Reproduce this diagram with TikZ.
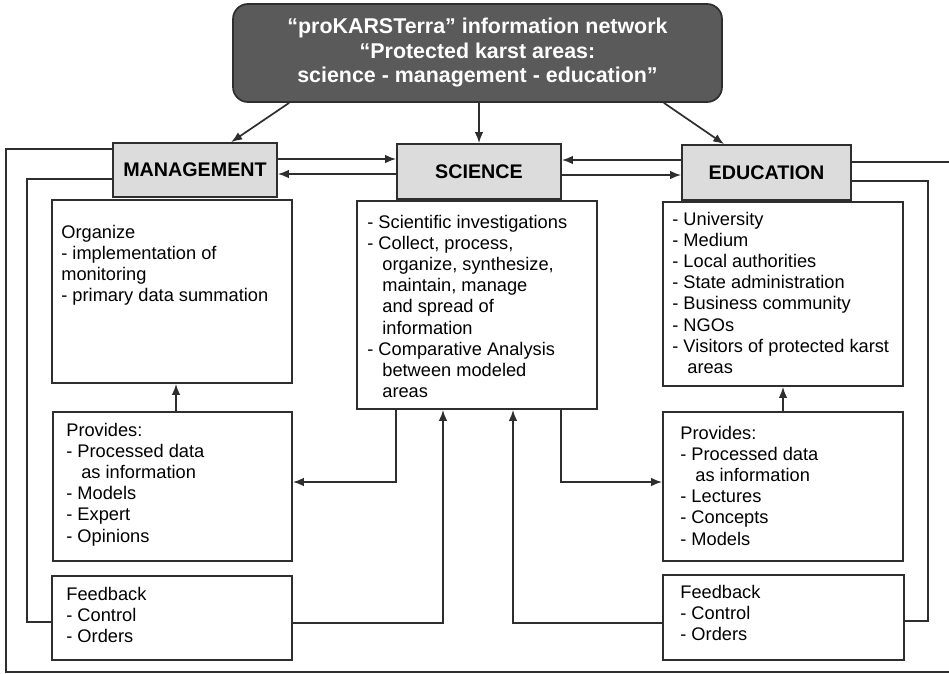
\documentclass[tikz,border=0pt]{standalone}
\usepackage{fontspec}
\setmainfont{Liberation Sans}
\usetikzlibrary{positioning,arrows.meta}
\definecolor{linegray}{HTML}{2E2E2E}
\definecolor{headgray}{HTML}{DCDCDC}
\definecolor{titlegray}{HTML}{5A5A5A}
\tikzset{
  box/.style={draw=linegray,line width=1.7pt,rectangle,inner sep=0pt},
  head/.style={box,fill=headgray,font=\fontsize{19.7}{23}\selectfont\bfseries},
  txt/.style={anchor=north west,inner sep=0pt,align=left,font=\fontsize{18.25}{21.1}\selectfont},
  wire/.style={draw=linegray,line width=1.7pt},
  link/.style={wire,-{Latex[length=11pt,width=8.5pt]}}
}
\newcommand{\ind}{\hspace*{15pt}}

\begin{document}
\begin{tikzpicture}[x=1pt,y=-1pt]
\useasboundingbox (0,0) rectangle (949,673);
\clip (0,0) rectangle (949,673);
\fill[white] (0,0) rectangle (949,673);

% network title
\node[box,fill=titlegray,rounded corners=15pt,minimum width=489pt,minimum height=98pt,text=white,align=center,font=\fontsize{21.4}{24.5}\selectfont\bfseries] (net) at (477.5,53) {“proKARSTerra” information network\\“Protected karst areas:\\science - management - education”};

% the three fields
\node[head,minimum width=164pt,minimum height=54pt] (man) at (195,170) {MANAGEMENT};
\node[head,minimum width=164pt,minimum height=55pt] (sci) at (479,171.5) {SCIENCE};
\node[head,minimum width=169pt,minimum height=55pt] (edu) at (766.5,172.5) {EDUCATION};

% boxes below
\node[box,minimum width=240pt,minimum height=183pt] (manorg) at (172,291.5) {};
\node[box,minimum width=239pt,minimum height=149pt] (manpro) at (172.5,486.5) {};
\node[box,minimum width=240pt,minimum height=84pt] (manfb) at (172,618) {};
\node[box,minimum width=240pt,minimum height=208pt] (scibox) at (477,305) {};
\node[box,minimum width=240pt,minimum height=184pt] (edulist) at (783,294) {};
\node[box,minimum width=240pt,minimum height=149pt] (edupro) at (783,486.5) {};
\node[box,minimum width=241pt,minimum height=85pt] (edufb) at (783.5,617.5) {};

\node[txt] (manorgtxt) at ([shift={(10pt,-26pt)}]manorg.north west) {Organize\\- implementation of\\monitoring\\- primary data summation};
\node[txt] (manprotxt) at ([shift={(14pt,-12pt)}]manpro.north west) {Provides:\\- Processed data\\\ind as information\\- Models\\- Expert\\- Opinions};
\node[txt] (manfbtxt) at ([shift={(15pt,-12pt)}]manfb.north west) {Feedback\\- Control\\- Orders};
\node[txt] (scitxt) at ([shift={(11pt,-15pt)}]scibox.north west) {- Scientific investigations\\- Collect, process,\\\ind organize, synthesize,\\\ind maintain, manage\\\ind and spread of\\\ind information\\- Comparative Analysis\\\ind between modeled\\\ind areas};
\node[txt] (edulisttxt) at ([shift={(10pt,-11pt)}]edulist.north west) {- University\\- Medium\\- Local authorities\\- State administration\\- Business community\\- NGOs\\- Visitors of protected karst\\\ind areas};
\node[txt] (eduprotxt) at ([shift={(18pt,-15pt)}]edupro.north west) {Provides:\\- Processed data\\\ind as information\\- Lectures\\- Concepts\\- Models};
\node[txt] (edufbtxt) at ([shift={(18pt,-11pt)}]edufb.north west) {Feedback\\- Control\\- Orders};

% arrows from the network
\draw[link] ([xshift=57pt]net.south west) -- ([xshift=119pt]man.north west);
\draw[link] (net.south -| sci.north) -- (sci.north);
\draw[link] ([xshift=-59pt]net.south east) -- ([xshift=43pt]edu.north west);

% exchange between the fields
\draw[link] ([yshift=11pt]man.east) -- ([yshift=11pt]man.east -| sci.west);
\draw[link] ([yshift=-2.5pt]sci.west) -- ([yshift=-2.5pt]sci.west -| man.east);
\draw[link] ([yshift=12.5pt]edu.west) -- ([yshift=12.5pt]edu.west -| sci.east);
\draw[link] ([yshift=-3.5pt]sci.east) -- ([yshift=-3.5pt]sci.east -| edu.west);

% outer loop
\coordinate (outL) at (6,672);
\coordinate (outR) at (962,672);
\draw[wire] ([yshift=21pt]man.west) -| (outL) -- (outR) |- ([yshift=10.5pt]edu.east);

% feedback lines
\draw[wire] ([yshift=-9pt]man.west) -| ([xshift=-24pt,yshift=-4pt]manfb.west) -- ([yshift=-4pt]manfb.west);
\draw[wire] ([yshift=-8.5pt]edu.east) -| ([xshift=23pt,yshift=-3.5pt]edufb.east) -- ([yshift=-3.5pt]edufb.east);

% science output and feedback input
\draw[link] ([xshift=-81pt]scibox.south) |- ([yshift=4.5pt]manpro.east);
\draw[link] ([xshift=84pt]scibox.south) |- ([yshift=4.5pt]edupro.west);
\draw[link] ([yshift=-5pt]manfb.east) -| ([xshift=-34pt]scibox.south);
\draw[link] ([yshift=-5.5pt]edufb.west) -| ([xshift=36pt]scibox.south);

% provides boxes up
\draw[link] ([xshift=3.5pt]manpro.north) -- ([xshift=3.5pt]manpro.north |- manorg.south);
\draw[link] (edupro.north) -- (edupro.north |- edulist.south);
\end{tikzpicture}
\end{document}
